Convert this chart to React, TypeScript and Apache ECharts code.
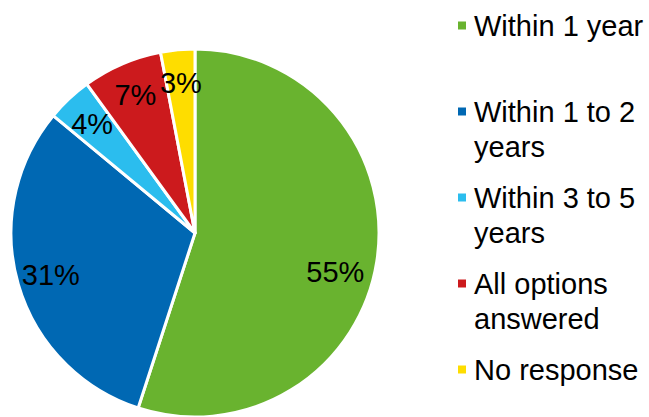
import React, { useEffect, useRef } from 'react';
import * as echarts from 'echarts';

const categories = ['Within 1 year', 'Within 1 to 2 years', 'Within 3 to 5 years', 'All options answered', 'No response'];
const legendLabels = ['Within 1 year', 'Within 1 to 2\nyears', 'Within 3 to 5\nyears', 'All options\nanswered', 'No response'];
const values = [55, 31, 4, 7, 3];
const colors = ['#69b32f', '#0068b3', '#2bbdee', '#cc1a1d', '#fedd00'];

export default function App() {
  const ref = useRef<HTMLDivElement>(null);
  useEffect(() => {
    if (!ref.current) return;
    const chart = echarts.init(ref.current, null, { renderer: 'svg' });
    const font = '"Liberation Sans", Arial, sans-serif';
    const center = [195, 233];
    const r = 184;
    chart.setOption({
      animation: false,
      backgroundColor: '#ffffff',
      legend: {
        orient: 'vertical',
        left: 456,
        top: -27,
        width: 200,
        height: 600,
        padding: 0,
        itemGap: -19,
        itemWidth: 10,
        itemHeight: 10,
        icon: 'rect',
        selectedMode: false,
        data: categories.map((name, i) => ({ name, itemStyle: { color: colors[i] } })),
        formatter: (name: string) => {
          const lbl = legendLabels[categories.indexOf(name)];
          return lbl.indexOf('\n') >= 0 ? '\n' + lbl : '\n' + lbl + '\n';
        },
        textStyle: {
          fontFamily: font,
          fontSize: 29,
          lineHeight: 35,
          color: '#000',
          padding: [0, 0, 0, 2],
        },
      },
      series: [
        {
          type: 'pie',
          center,
          radius: r,
          startAngle: 90,
          clockwise: true,
          silent: true,
          label: { show: false },
          labelLine: { show: false },
          itemStyle: { borderColor: '#ffffff', borderWidth: 3 },
          emphasis: { disabled: true },
          data: categories.map((name, i) => ({ name, value: values[i], itemStyle: { color: colors[i] } })),
        },
        {
          type: 'pie',
          center,
          radius: [r * 0.6, r],
          startAngle: 90,
          clockwise: true,
          silent: true,
          avoidLabelOverlap: false,
          labelLine: { show: false },
          itemStyle: { color: 'rgba(0,0,0,0)', borderWidth: 0 },
          emphasis: { disabled: true },
          label: {
            show: true,
            position: 'inside',
            formatter: '{c}%',
            fontFamily: font,
            fontSize: 29,
            color: '#000',
          },
          data: categories.map((name, i) => ({
            name,
            value: values[i],
            label: i === 0 ? { offset: [-8, 16] } : undefined,
          })),
        },
      ],
    });
    return () => chart.dispose();
  }, []);
  return <div ref={ref} style={{ width: 649, height: 417, position: 'absolute', left: 0, top: 0 }} />;
}
